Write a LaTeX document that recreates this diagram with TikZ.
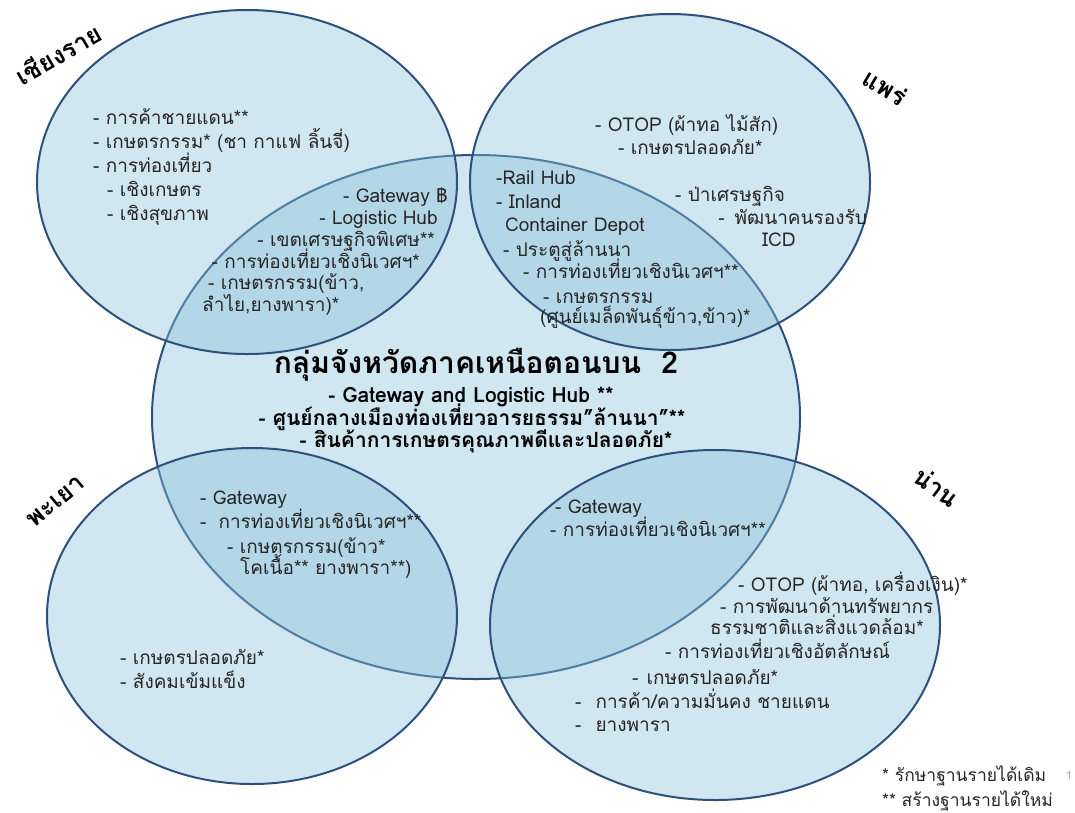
\documentclass[tikz,border=0pt]{standalone}
\usepackage{fontspec}
\setmainfont[Script=Thai]{Loma}
\usetikzlibrary{positioning}

\definecolor{zoneline}{RGB}{45,80,125}
\definecolor{zonefill}{RGB}{138,193,218}

\begin{document}
\begin{tikzpicture}[x=1pt, y=-1pt]
\tikzset{
  zone/.style  = {draw=zoneline, line width=2pt, fill=zonefill, fill opacity=0.4},
  txt/.style   = {inner sep=0pt, font=\fontsize{19}{22}\selectfont, text=black!85},
  keytxt/.style = {inner sep=0pt, font=\fontsize{17.5}{22}\selectfont, text=black!85},
  head/.style  = {inner sep=0pt, font=\fontsize{21}{24}\selectfont\bfseries},
  title/.style = {inner sep=0pt, font=\fontsize{30}{32}\selectfont\bfseries},
  prov/.style  = {inner sep=0pt, font=\fontsize{25}{28}\selectfont\bfseries}
}
\useasboundingbox (0,0) rectangle (1075,812);

% Zones (group first, provinces on top)
\draw[zone] (476,417) ellipse [x radius=324pt, y radius=262pt];
\draw[zone] (247,182) ellipse [x radius=210pt, y radius=172pt];
\draw[zone] (670,182) ellipse [x radius=200pt, y radius=168pt];
\draw[zone] (252,616) ellipse [x radius=205pt, y radius=168pt];
\draw[zone] (715,625) ellipse [x radius=225pt, y radius=175pt];

% Province names
\node[prov, rotate=30]  (chiangrai) at (58,54)  {เชียงราย};
\node[prov, rotate=-31] (phrae)     at (885,87) {แพร่};
\node[prov, rotate=40]  (phayao)    at (56,502) {พะเยา};
\node[prov, rotate=-37] (nan)       at (937,487) {น่าน};

% Chiang Rai
\node[txt, anchor=base west] (cr1) at (93,124) {- การค้าชายแดน**};
\node[txt, anchor=base west] (cr2) at (93,148) {- เกษตรกรรม* (ชา กาแฟ ลิ้นจี่)};
\node[txt, anchor=base west] (cr3) at (93,172) {- การท่องเที่ยว};
\node[txt, anchor=base west] (cr4) at (107,196) {- เชิงเกษตร};
\node[txt, anchor=base west] (cr5) at (107,220) {- เชิงสุขภาพ};

% Chiang Rai / group overlap
\node[txt, anchor=base east] (crx1) at (448,202) {- Gateway ฿};
\node[txt, anchor=base east] (crx2) at (438,224) {- Logistic Hub};
\node[txt, anchor=base east] (crx3) at (435,246) {- เขตเศรษฐกิจพิเศษ**};
\node[txt, anchor=base east] (crx4) at (420,268) {- การท่องเที่ยวเชิงนิเวศฯ*};
\node[txt, anchor=base west] (crx5) at (208,289) {- เกษตรกรรม(ข้าว,};
\node[txt, anchor=base west] (crx6) at (202,311) {ลำไย,ยางพารา)*};

% Phrae
\node[txt, anchor=base west] (pr1) at (595,131) {- OTOP (ผ้าทอ ไม้สัก)};
\node[txt, anchor=base west] (pr2) at (618,154) {- เกษตรปลอดภัย*};
\node[txt, anchor=base west] (pr3) at (675,201) {- ป่าเศรษฐกิจ};
\node[txt, anchor=base east] (pr4) at (867,224) {-\hspace{10pt}พัฒนาคนรองรับ};
\node[txt, anchor=base west] (pr5) at (762,246) {ICD};

% Phrae / group overlap
\node[txt, anchor=base west] (prx1) at (496,184) {-Rail Hub};
\node[txt, anchor=base west] (prx2) at (496,208) {- Inland};
\node[txt, anchor=base west] (prx3) at (505,231) {Container Depot};
\node[txt, anchor=base west] (prx4) at (503,256) {- ประตูสู่ล้านนา};
\node[txt, anchor=base west] (prx5) at (523,278) {- การท่องเที่ยวเชิงนิเวศฯ**};
\node[txt, anchor=base west] (prx6) at (543,303) {- เกษตรกรรม};
\node[txt, anchor=base west] (prx7) at (540,323) {(ศูนย์เมล็ดพันธุ์ข้าว,ข้าว)*};

% Group
\node[title, anchor=base] (grp)  at (476,373) {กลุ่มจังหวัดภาคเหนือตอนบน~~2};
\node[head, anchor=base]  (grp1) at (471,402) {- Gateway and Logistic Hub **};
\node[head, anchor=base]  (grp2) at (472,425) {- ศูนย์กลางเมืองท่องเที่ยวอารยธรรม”ล้านนา”**};
\node[head, anchor=base]  (grp3) at (486,447) {- สินค้าการเกษตรคุณภาพดีและปลอดภัย*};

% Phayao / group overlap
\node[txt, anchor=base west] (pyx1) at (200,504) {- Gateway};
\node[txt, anchor=base west] (pyx2) at (200,528) {-\hspace{12pt}การท่องเที่ยวเชิงนิเวศฯ**};
\node[txt, anchor=base west] (pyx3) at (227,553) {- เกษตรกรรม(ข้าว*};
\node[txt, anchor=base west] (pyx4) at (240,574) {โคเนื้อ** ยางพารา**)};

% Phayao
\node[txt, anchor=base west] (py1) at (120,664) {- เกษตรปลอดภัย*};
\node[txt, anchor=base west] (py2) at (120,688) {- สังคมเข้มแข็ง};

% Nan / group overlap
\node[txt, anchor=base west] (nnx1) at (555,513) {- Gateway};
\node[txt, anchor=base west] (nnx2) at (550,536) {- การท่องเที่ยวเชิงนิเวศฯ**};

% Nan
\node[txt, anchor=base west] (nn1) at (738,591) {- OTOP (ผ้าทอ, เครื่องเงิน)*};
\node[txt, anchor=base west] (nn2) at (720,613) {- การพัฒนาด้านทรัพยากร};
\node[txt, anchor=base west] (nn3) at (710,634) {ธรรมชาติและสิ่งแวดล้อม*};
\node[txt, anchor=base west] (nn4) at (665,658) {- การท่องเที่ยวเชิงอัตลักษณ์};
\node[txt, anchor=base west] (nn5) at (632,684) {-\hspace{8pt}เกษตรปลอดภัย*};
\node[txt, anchor=base west] (nn6) at (575,708) {-\hspace{14pt}การค้า/ความมั่นคง ชายแดน};
\node[txt, anchor=base west] (nn7) at (575,731) {-\hspace{14pt}ยางพารา};

% Key
\node[keytxt, anchor=base west] (key1) at (882,781) {* รักษาฐานรายได้เดิม};
\node[keytxt, anchor=base west] (key2) at (882,806) {** สร้างฐานรายได้ใหม่};
\node[inner sep=0pt, anchor=base west, font=\fontsize{11}{13}\selectfont, text=black!35] (pgno) at (1066,779) {1};

\end{tikzpicture}
\end{document}
